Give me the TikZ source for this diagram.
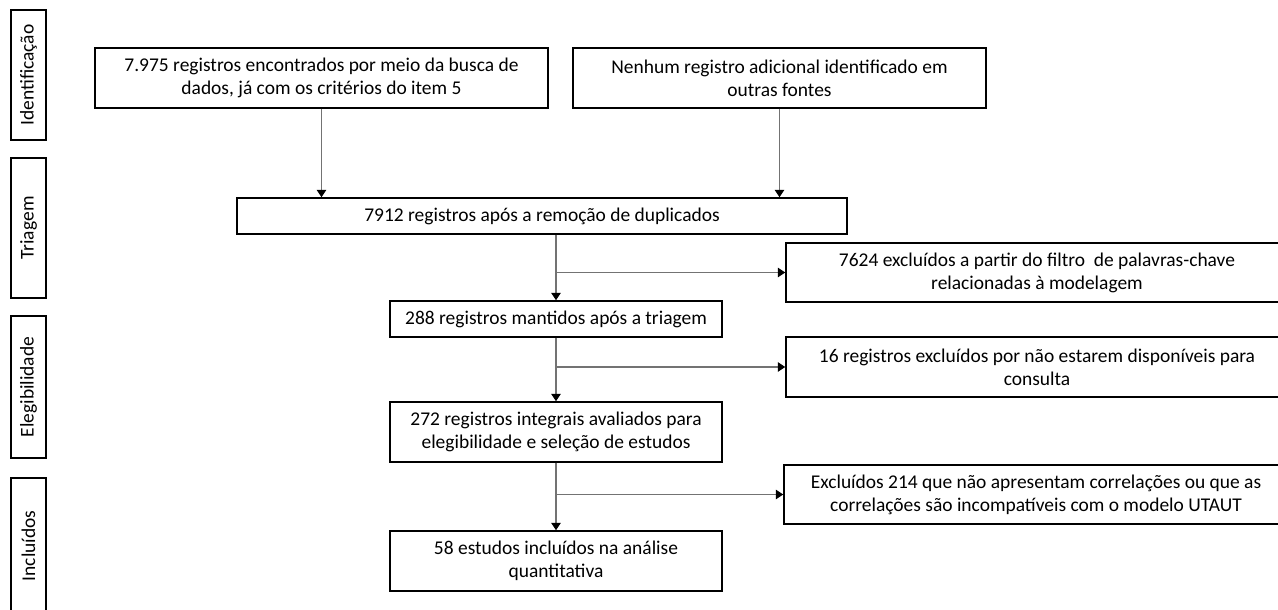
\documentclass[tikz,border=0pt]{standalone}
\usepackage{fontspec}
\setmainfont{Carlito}
\usetikzlibrary{arrows.meta}
\tikzset{
  box/.style={draw=black, line width=1.1pt, align=center, inner sep=0pt, fill=white,
    font=\fontsize{14.6pt}{17.3pt}\selectfont},
  sidebox/.style={box, rotate=90, minimum height=26.25pt},
  conn/.style={draw=black!55, line width=0.8pt,
    -{Triangle[length=5.5pt,width=7pt,color=black,fill=black]}},
  plain/.style={draw=black!55, line width=0.8pt}
}
\begin{document}
\begin{tikzpicture}[x=0.75pt,y=-0.75pt]
\useasboundingbox (0,0) rectangle (1278,610);
\clip (0,0) rectangle (1278,610);
\fill[white] (0,0) rectangle (1278,610);

% phase labels
\node[sidebox, minimum width=97.5pt] (s1) at (28.5,75) {Identificação};
\node[sidebox, minimum width=105pt] (s2) at (28.5,228) {Triagem};
\node[sidebox, minimum width=106.5pt] (s3) at (28.5,387) {Elegibilidade};
\node[sidebox, minimum width=102pt] (s4) at (28.5,546) {Incluídos};

% main boxes
\node[box, minimum width=339.75pt, minimum height=45pt] (A) at (321.5,78)
  {7.975 registros encontrados por meio da busca de\\dados, já com os critérios do item 5};
\node[box, minimum width=309.75pt, minimum height=45pt] (B) at (779.5,78)
  {Nenhum registro adicional identificado em\\outras fontes};
\node[box, minimum width=457.5pt, minimum height=27pt] (C) at (542,216)
  {7912 registros após a remoção de duplicados};
\node[box, minimum width=249pt, minimum height=27pt] (D) at (556,319)
  {288 registros mantidos após a triagem};
\node[box, minimum width=249pt, minimum height=45pt] (G) at (556,432)
  {272 registros integrais avaliados para\\elegibilidade e seleção de estudos};
\node[box, minimum width=249pt, minimum height=45pt] (I) at (556,561)
  {58 estudos incluídos na análise\\quantitativa};

% exclusion boxes
\node[box, minimum width=376.5pt, minimum height=44.25pt] (E) at (1037,272.5)
  {7624 excluídos a partir do filtro\ \ de palavras-chave\\relacionadas à modelagem};
\node[box, minimum width=376.5pt, minimum height=45pt] (F) at (1037,367)
  {16 registros excluídos por não estarem disponíveis para\\consulta};
\node[box, minimum width=378pt, minimum height=44.25pt] (H) at (1036,494.5)
  {Excluídos 214 que não apresentam correlações ou que as\\correlações são incompatíveis com o modelo UTAUT};

% connectors
\draw[conn] (A.south) -- (A.south |- C.north);
\draw[conn] (B.south) -- (B.south |- C.north);
\draw[conn] (C.south -| D.north) -- (D.north);
\draw[conn] (E.west -| D.north) -- (E.west);
\draw[conn] (D.south) -- (G.north);
\draw[conn] (F.west -| G.north) -- (F.west);
\draw[conn] (G.south) -- (I.north);
\draw[conn] (H.west -| I.north) -- (H.west);
\end{tikzpicture}
\end{document}
